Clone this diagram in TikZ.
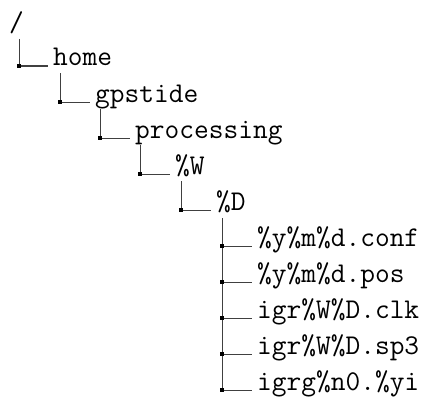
\documentclass[tikz,border=0pt]{standalone}
\begin{document}
\begin{tikzpicture}[x=1pt,y=-1pt,
  lbl/.style={anchor=base west,inner sep=0pt,font=\fontsize{28.6}{34}\selectfont\ttfamily},
  branch/.style={draw=black!75,line width=1pt},
  sq/.style={fill=black,minimum size=4.5pt,inner sep=0pt,draw=none,rectangle}]
\useasboundingbox (0,0) rectangle (428,396);
\node[lbl] (root) at (9,32) {/};
\node[lbl] (home) at (53,66) {home};
\node[lbl] (gps) at (95,102) {gpstide};
\node[lbl] (proc) at (135,138) {processing};
\node[lbl] (W) at (175,174) {\%W};
\node[lbl] (D) at (216,210) {\%D};
\node[lbl] (f1) at (257,246) {\%y\%m\%d.conf};
\node[lbl] (f2) at (257,282) {\%y\%m\%d.pos};
\node[lbl] (f3) at (257,318) {igr\%W\%D.clk};
\node[lbl] (f4) at (257,354) {igr\%W\%D.sp3};
\node[lbl] (f5) at (257,390) {igrg\%n0.\%yi};
% junctions
\coordinate (j1) at (19,66);
\coordinate (j2) at (60,102);
\coordinate (j3) at (100,138);
\coordinate (j4) at (140,174);
\coordinate (j5) at (181,210);
\foreach \p/\c/\j in {root/home/j1,home/gps/j2,gps/proc/j3,proc/W/j4,W/D/j5}{
  \draw[branch] ([yshift=-7pt]\j |- \p.base) -- (\j) -- ([xshift=-5pt]\c.base west);
  \node[sq] at (\j) {};
}
\coordinate (jf) at (222,0);
\draw[branch] ([yshift=-8pt]jf |- D.base) -- (jf |- f5.base);
\foreach \c in {f1,f2,f3,f4,f5}{
  \draw[branch] (jf |- \c.base) -- ([xshift=-5pt]\c.base west);
  \node[sq] at (jf |- \c.base) {};
}
\end{tikzpicture}
\end{document}
